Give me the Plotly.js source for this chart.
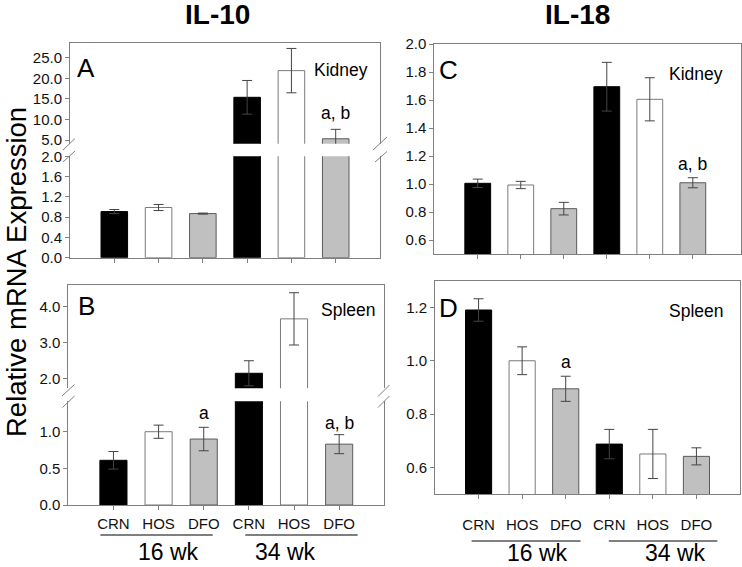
<!DOCTYPE html>
<html>
<head>
<meta charset="utf-8">
<script src="https://cdn.plot.ly/plotly-3.0.1.min.js"></script>
<style>html,body{margin:0;padding:0;background:#fff;}#chart{width:742px;height:567px;}</style>
</head>
<body>
<div id="chart"></div>
<script>
// ---- data ----
const groups = ['CRN', 'HOS', 'DFO', 'CRN', 'HOS', 'DFO'];
const xIdx = [0, 1, 2, 3, 4, 5];
const weeks = ['16 wk', '34 wk'];
const il10Kidney = [0.91, 0.99, 0.87, 15.4, 21.9, 5.3];
const il10KidneyErr = [0.04, 0.06, 0.01, 4.1, 5.4, 2.3];
const il10Spleen = [0.61, 1.00, 0.90, 2.14, 3.66, 0.83];
const il10SpleenErr = [0.12, 0.09, 0.16, 0.35, 0.73, 0.13];
const il18Kidney = [1.005, 0.993, 0.824, 1.695, 1.605, 1.009];
const il18KidneyErr = [0.03, 0.026, 0.045, 0.174, 0.154, 0.036];
const il18Spleen = [1.19, 1.00, 0.895, 0.688, 0.651, 0.642];
const il18SpleenErr = [0.042, 0.052, 0.047, 0.055, 0.092, 0.032];

// ---- styling ----
const W = 742, H = 567;
const fx = p => p / W;
const fy = p => 1 - p / H;
const FONT = 'Liberation Sans, Arial, sans-serif';
const GRAY = '#808080';
const fills = ['#000000', '#ffffff', '#c0c0c0', '#000000', '#ffffff', '#c0c0c0'];
const edges = ['#000000', '#7a7a7a', '#5a5a5a', '#000000', '#7a7a7a', '#5a5a5a'];

function barTrace(y, err, xa, ya) {
  return {
    type: 'bar', x: xIdx, y: y, xaxis: xa, yaxis: ya, width: 0.6,
    marker: {color: fills, line: {color: edges, width: 1}},
    error_y: {type: 'data', array: err, visible: true, color: '#444444', thickness: 1, width: 5},
    hoverinfo: 'none', showlegend: false
  };
}

const data = [
  barTrace(il10Kidney, il10KidneyErr, 'x', 'y'),
  barTrace(il10Kidney, il10KidneyErr, 'x2', 'y2'),
  barTrace(il10Spleen, il10SpleenErr, 'x3', 'y3'),
  barTrace(il10Spleen, il10SpleenErr, 'x4', 'y4'),
  barTrace(il18Kidney, il18KidneyErr, 'x5', 'y5'),
  barTrace(il18Spleen, il18SpleenErr, 'x6', 'y6')
];

const tickFont = {family: FONT, size: 15, color: '#111'};
const catFont = {family: FONT, size: 15, color: '#111'};
function xAx(d, range, anchor, extra) {
  return Object.assign({
    domain: [fx(d[0]), fx(d[1])], range: range, anchor: anchor,
    showline: true, linecolor: GRAY, linewidth: 1,
    ticks: 'outside', ticklen: 4, tickcolor: GRAY, tickvals: xIdx,
    showticklabels: false, showgrid: false, zeroline: false, fixedrange: true
  }, extra || {});
}
function yAx(d, range, anchor, vals, extra) {
  return Object.assign({
    domain: [fy(d[1]), fy(d[0])], range: range, anchor: anchor,
    showline: true, mirror: true, linecolor: GRAY, linewidth: 1,
    ticks: 'outside', ticklen: 4, tickcolor: GRAY, tickvals: vals, tickformat: '.1f',
    tickfont: tickFont, showgrid: false, zeroline: false, fixedrange: true
  }, extra || {});
}

const layout = {
  width: W, height: H,
  margin: {l: 0, r: 0, t: 0, b: 0},
  paper_bgcolor: '#ffffff', plot_bgcolor: 'rgba(0,0,0,0)',
  font: {family: FONT, color: '#111'},
  bargap: 0.4,
  xaxis: xAx([70, 380], [-1, 6], 'y'),
  yaxis: yAx([156.3, 257.7], [0, 2.0], 'x', [0, 0.4, 0.8, 1.2, 1.6, 2.0]),
  xaxis2: xAx([70, 380], [-1, 6], 'y2', {side: 'top', ticks: ''}),
  yaxis2: yAx([42.7, 143.7], [4.1, 28.7], 'x2', [5, 10, 15, 20, 25]),
  xaxis3: xAx([68.3, 384.3], [-1, 6], 'y3', {showticklabels: true, ticktext: groups, tickfont: catFont, ticklabelstandoff: 1}),
  yaxis3: yAx([401.3, 505], [0, 1.415], 'x3', [0, 0.5, 1.0]),
  xaxis4: xAx([68.3, 384.3], [-1, 6], 'y4', {side: 'top', ticks: ''}),
  yaxis4: yAx([285, 388.3], [1.72, 4.606], 'x4', [2, 3, 4]),
  xaxis5: xAx([434.3, 741], [-1.01, 6.12], 'y5', {mirror: true}),
  yaxis5: yAx([44, 254.3], [0.498, 2.0], 'x5', [0.6, 0.8, 1.0, 1.2, 1.4, 1.6, 1.8, 2.0]),
  xaxis6: xAx([435, 740], [-1, 6], 'y6', {mirror: true, showticklabels: true, ticktext: groups, tickfont: catFont, ticklabelstandoff: 13}),
  yaxis6: yAx([280.7, 494.3], [0.5, 1.2997], 'x6', [0.6, 0.8, 1.0, 1.2]),
  shapes: [],
  annotations: []
};

// break marks
function brk(x1, y1, x2, y2) {
  layout.shapes.push({type: 'line', xref: 'paper', yref: 'paper', x0: fx(x1), y0: fy(y1), x1: fx(x2), y1: fy(y2), line: {color: GRAY, width: 1}});
}
brk(63, 150, 75, 138.5); brk(63, 162, 75, 151);
brk(373, 150, 387, 137); brk(375, 162, 387, 151.5);
brk(62, 396, 74.5, 384.5); brk(62.5, 407.5, 74.5, 396);
brk(378, 396.5, 389.5, 385); brk(378, 407.5, 389.5, 396);

// week underline bars
function wkLine(xa, a, b, py) {
  layout.shapes.push({type: 'line', xref: xa, yref: 'paper', x0: a, x1: b, y0: fy(py), y1: fy(py), line: {color: '#000', width: 1}});
}
wkLine('x3', -0.29, 2.2, 535); wkLine('x3', 2.92, 5.41, 535);
wkLine('x6', -0.16, 2.34, 541); wkLine('x6', 2.99, 5.48, 541);

function ann(text, xref, x, py, size, extra) {
  layout.annotations.push(Object.assign({
    text: text, xref: xref, yref: 'paper', x: x, y: fy(py), showarrow: false,
    xanchor: 'center', yanchor: 'middle', borderpad: 0,
    font: {family: FONT, size: size, color: '#000'}
  }, extra || {}));
}
// titles
ann('<b>IL-10</b>', 'paper', fx(217), 14, 28);
ann('<b>IL-18</b>', 'paper', fx(577), 14, 28);
ann('Relative mRNA Expression', 'paper', fx(16), 272, 27.5, {textangle: -90});
// panel letters
ann('A', 'paper', fx(86), 67.5, 26);
ann('B', 'paper', fx(86), 305.5, 26);
ann('C', 'paper', fx(448), 70.5, 26);
ann('D', 'paper', fx(448), 307.5, 26);
// tissue labels
ann('Kidney', 'paper', fx(341), 70, 17.5);
ann('Spleen', 'paper', fx(348), 310, 17.5);
ann('Kidney', 'paper', fx(695.5), 74, 17.5);
ann('Spleen', 'paper', fx(696), 311, 17.5);
// significance letters
ann('a, b', 'x2', 5, 113, 17.5);
ann('a', 'x3', 2, 413, 17.5);
ann('a, b', 'x3', 5, 423, 17.5);
ann('a, b', 'x5', 5, 164, 17.5);
ann('a', 'x6', 2, 362, 17.5);
// week labels
ann(weeks[0], 'x3', 1.23, 551.5, 23);
ann(weeks[1], 'x3', 3.81, 551.5, 23);
ann(weeks[0], 'x6', 1.35, 553, 23);
ann(weeks[1], 'x6', 4.51, 553, 23);

Plotly.newPlot('chart', data, layout, {staticPlot: true, displayModeBar: false});
</script>
</body>
</html>
